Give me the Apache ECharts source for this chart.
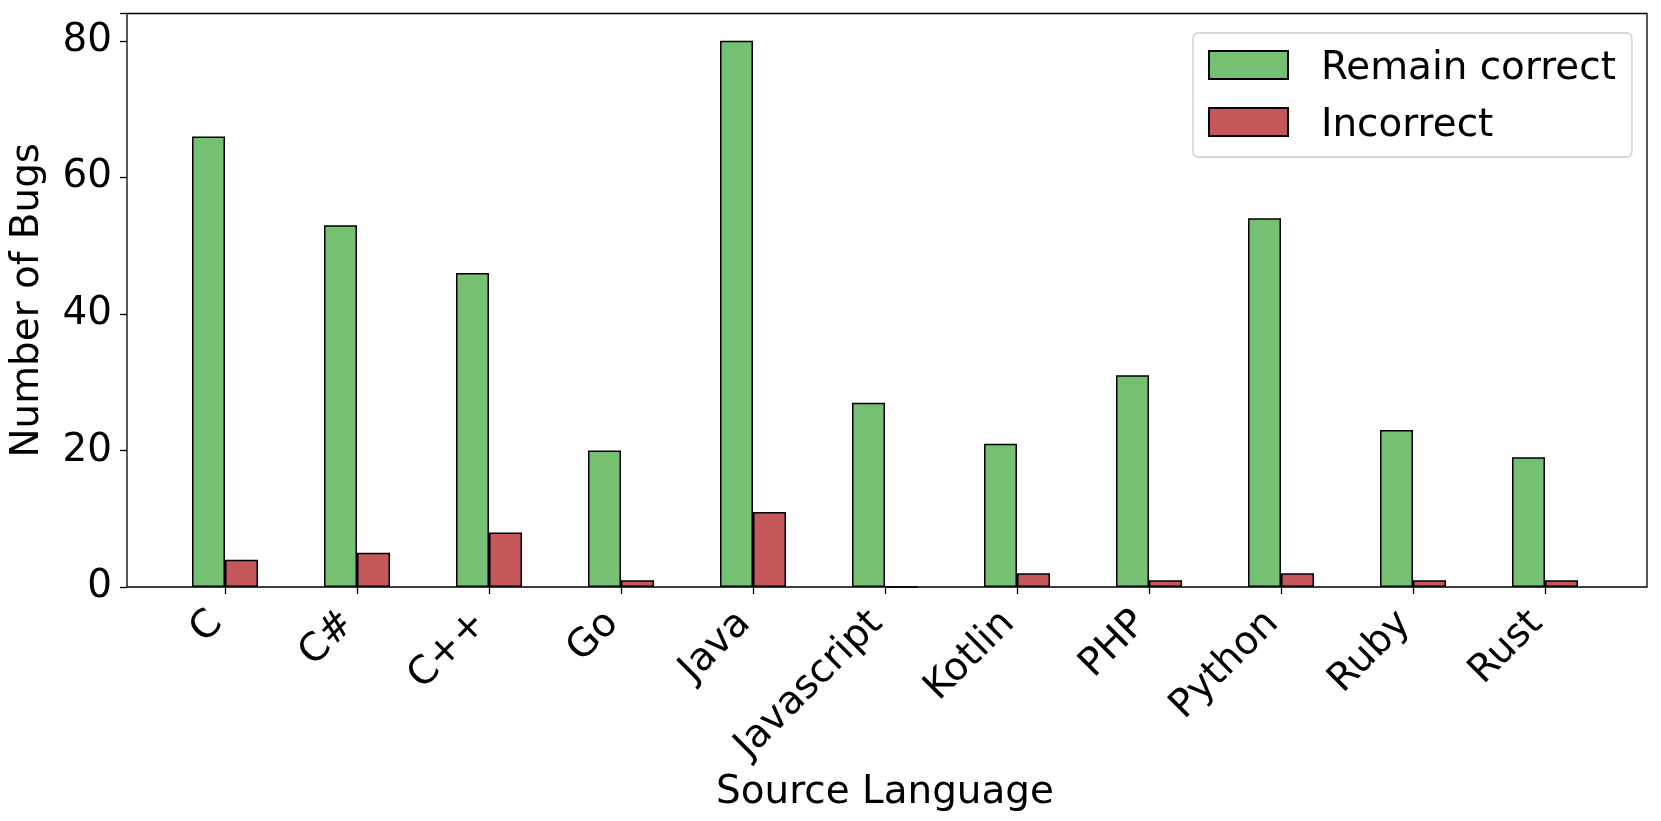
<!DOCTYPE html>
<html>
<head>
<meta charset="utf-8">
<script src="https://cdn.jsdelivr.net/npm/echarts@6/dist/echarts.min.js"></script>
<style>
html,body{margin:0;padding:0;background:#fff;}
#chart{width:1661px;height:821px;}
</style>
</head>
<body>
<div id="chart"></div>
<script>
const categories = ['C', 'C#', 'C++', 'Go', 'Java', 'Javascript', 'Kotlin', 'PHP', 'Python', 'Ruby', 'Rust'];
const remainCorrect = [66, 53, 46, 20, 80, 27, 21, 31, 54, 23, 19];
const incorrect = [4, 5, 8, 1, 11, 0, 2, 1, 2, 1, 1];
const yTicks = [0, 20, 40, 60, 80];

const FONT = 'DejaVu Sans';
const FS = 38.9;

const chart = echarts.init(document.getElementById('chart'), null, {renderer: 'canvas'});
chart.setOption({
  animation: false,
  backgroundColor: '#fff',
  textStyle: {fontFamily: FONT, color: '#000'},
  legend: {
    orient: 'vertical',
    left: 1193,
    top: 33,
    padding: [9, 16, 12, 15],
    itemWidth: 79,
    itemHeight: 28,
    itemGap: 11,
    borderColor: '#cccccc',
    borderWidth: 1.3,
    borderRadius: 5,
    backgroundColor: 'rgba(255,255,255,0.8)',
    icon: 'rect',
    formatter: '{t|{name}}',
    textStyle: {
      fontFamily: FONT, fontSize: FS, color: '#000', padding: [0, 0, 0, 28],
      rich: {t: {fontFamily: FONT, fontSize: FS, color: '#000', lineHeight: 40, padding: [7, 0, 0, 0]}}
    },
    data: ['Remain correct', 'Incorrect']
  },
  grid: [
    {left: 122.5, right: 14, top: 13.5, bottom: 234, show: true, borderColor: '#000', borderWidth: 1.3, backgroundColor: 'transparent', containLabel: false},
    {left: 159, right: 50, top: 13.5, bottom: 234, containLabel: false}
  ],
  xAxis: [
    {type: 'value', gridIndex: 0, min: 0, max: 1, show: false},
    {
      type: 'category', gridIndex: 1, data: categories,
      axisLine: {show: false},
      axisTick: {show: true, alignWithLabel: true, length: 7, lineStyle: {color: '#000', width: 1.3}},
      axisLabel: {rotate: 45, fontFamily: FONT, fontSize: FS, color: '#000', margin: 22, interval: 0, padding: [0, 12, 0, 0]},
      name: 'Source Language', nameLocation: 'middle', nameGap: 180,
      nameTextStyle: {fontFamily: FONT, fontSize: FS, color: '#000'}
    }
  ],
  yAxis: [
    {
      type: 'value', gridIndex: 0, min: 0, max: 84, interval: 20,
      axisLine: {show: false}, splitLine: {show: false},
      axisTick: {show: true, length: 7, lineStyle: {color: '#000', width: 1.3}},
      axisLabel: {fontFamily: FONT, fontSize: FS, color: '#000', margin: 15,
        customValues: yTicks},
      name: 'Number of Bugs', nameLocation: 'middle', nameGap: 80,
      nameTextStyle: {fontFamily: FONT, fontSize: FS, color: '#000'}
    },
    {type: 'value', gridIndex: 1, min: 0, max: 84, show: false}
  ],
  series: [
    {
      name: 'Remain correct', type: 'bar', xAxisIndex: 1, yAxisIndex: 1,
      data: remainCorrect, barWidth: 33, barGap: '0%',
      itemStyle: {color: '#75c072', borderColor: '#000', borderWidth: 1.5}
    },
    {
      name: 'Incorrect', type: 'bar', xAxisIndex: 1, yAxisIndex: 1,
      data: incorrect, barWidth: 33, barGap: '0%',
      itemStyle: {color: '#c5575a', borderColor: '#000', borderWidth: 1.5}
    }
  ]
});
</script>
</body>
</html>
